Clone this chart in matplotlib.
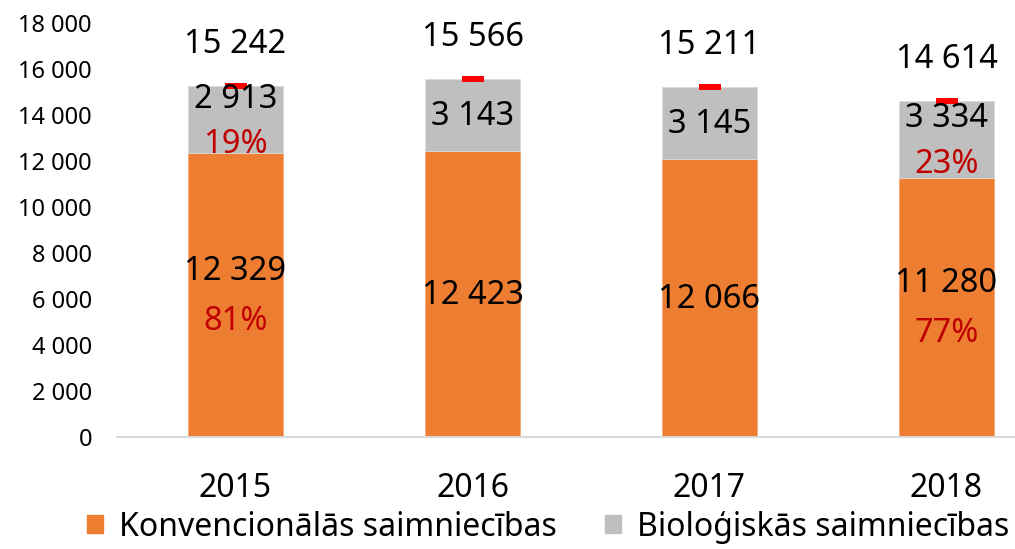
import matplotlib
matplotlib.use("Agg")
import matplotlib.pyplot as plt
from matplotlib.patches import Patch

plt.rcParams['font.family'] = ['Noto Sans', 'DejaVu Sans']

years = ['2015', '2016', '2017', '2018']
konv = [12329, 12423, 12066, 11280]
bio = [2913, 3143, 3145, 3334]
totals = [15242, 15566, 15211, 14614]
konv_pct = ['81%', None, None, '77%']
bio_pct = ['19%', None, None, '23%']

c_orange = '#ED7D31'
c_gray = '#BFBFBF'
c_red = '#C00000'
fs = 23.5

def fmt(v):
    return f"{v:,}".replace(",", " ")

fig = plt.figure(figsize=(10.15, 5.49), dpi=100)
ax = fig.add_axes([117 / 1015, 112 / 549, 948 / 1015, 414 / 549])

x = list(range(len(years)))
ax.bar(x, konv, width=0.4, color=c_orange, edgecolor='#F4A878', linewidth=0.6)
ax.bar(x, bio, width=0.4, bottom=konv, color=c_gray, edgecolor='#DADADA', linewidth=0.6)
ax.plot(x, totals, linestyle='none', marker='_', markersize=16.5,
        markeredgewidth=4.3, color='#FF0000')

for i in x:
    # orange segment labels
    mid = konv[i] / 2
    if konv_pct[i]:
        ax.annotate(fmt(konv[i]), (i, mid), xytext=(0, 17), textcoords='offset points',
                    ha='center', va='center', fontsize=fs, color='black')
        ax.annotate(konv_pct[i], (i, mid), xytext=(0, -19), textcoords='offset points',
                    ha='center', va='center', fontsize=fs, color=c_red)
    else:
        ax.annotate(fmt(konv[i]), (i, mid), xytext=(0, -1), textcoords='offset points',
                    ha='center', va='center', fontsize=fs, color='black')
    # gray segment labels
    mid = konv[i] + bio[i] / 2
    if bio_pct[i]:
        ax.annotate(fmt(bio[i]), (i, mid), xytext=(0, 15), textcoords='offset points',
                    ha='center', va='center', fontsize=fs, color='black')
        ax.annotate(bio_pct[i], (i, mid), xytext=(0, -18), textcoords='offset points',
                    ha='center', va='center', fontsize=fs, color=c_red)
    else:
        ax.annotate(fmt(bio[i]), (i, mid), xytext=(0, -1), textcoords='offset points',
                    ha='center', va='center', fontsize=fs, color='black')
    # totals
    ax.annotate(fmt(totals[i]), (i, totals[i]), xytext=(0, 30), textcoords='offset points',
                ha='center', va='center', fontsize=fs, color='black')

ax.set_xlim(-0.5, 3.5)
ax.set_ylim(0, 18000)
ax.set_xticks(x)
ax.set_xticklabels(years, fontsize=23)
ax.set_yticks(range(0, 18001, 2000))
ax.set_yticklabels([fmt(v) for v in range(0, 18001, 2000)], fontsize=17)
ax.tick_params(axis='y', length=0, pad=18)
ax.tick_params(axis='x', length=0, pad=25)

for s in ['top', 'right', 'left']:
    ax.spines[s].set_visible(False)
ax.spines['bottom'].set_color('#D9D9D9')
ax.spines['bottom'].set_linewidth(1.5)

handles = [Patch(color=c_orange, label='Konvencionālās saimniecības'),
           Patch(color=c_gray, label='Bioloģiskās saimniecības')]
fig.legend(handles=handles, loc='center', bbox_to_anchor=(548 / 1015, 22 / 549), ncol=2,
           frameon=False, fontsize=23, handlelength=0.5, handleheight=0.5,
           handletextpad=0.5, columnspacing=1.5, borderaxespad=0, borderpad=0)

fig.savefig('out.png', dpi=100)
